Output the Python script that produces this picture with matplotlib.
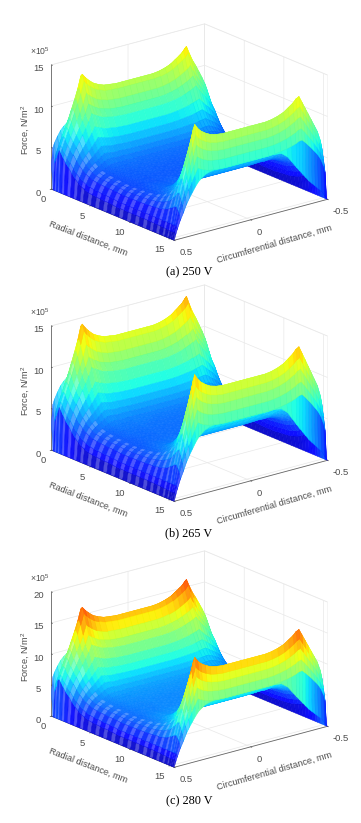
import numpy as np
import matplotlib
matplotlib.use('Agg')
import matplotlib.pyplot as plt

plt.rcParams['font.family'] = ['Liberation Sans', 'DejaVu Sans']
plt.rcParams['mathtext.default'] = 'regular'

# valores (forca em 1e5 N/m2)
circ_dist = [0.5, 0.49, 0.48, 0.46, 0.44, 0.42, 0.40, 0.38, 0.36, 0.34, 0.32, 0.30, 0.27, 0.24, 0.20, 0.16, 0.12, 0.08, 0.04, 0.0,
             -0.04, -0.08, -0.12, -0.16, -0.20, -0.24, -0.27, -0.30, -0.32, -0.34, -0.36, -0.38, -0.40, -0.42, -0.44, -0.46, -0.48, -0.49, -0.5]
near_ridge = [0.0, 5.0, 5.5, 6.5, 7.5, 8.5, 9.6, 10.7, 11.9, 13.4, 12.9, 12.5, 12.0, 11.7, 11.4, 11.3, 11.2, 11.2, 11.2, 11.2,
              11.2, 11.2, 11.2, 11.3, 11.5, 11.8, 12.2, 12.6, 12.9, 13.4, 12.4, 11.5, 10.8, 10.0, 9.2, 8.3, 7.0, 6.0, 0.0]
far_ridge = [0.0, 0.8, 1.6, 3.7, 5.3, 7.0, 8.5, 10.0, 11.4, 13.0, 12.4, 12.0, 11.6, 11.3, 11.1, 11.0, 11.0, 11.0, 11.0, 11.0,
             11.0, 11.0, 11.0, 11.1, 11.3, 11.6, 12.0, 12.4, 12.8, 13.0, 12.2, 11.4, 10.6, 9.8, 9.0, 8.2, 7.0, 6.0, 0.0]
mid_force = [0.0, 1.0, 1.6, 2.3, 2.7, 2.9, 3.0, 3.1, 3.2, 3.2, 3.3, 3.3, 3.3, 3.4, 3.4, 3.4, 3.4, 3.4, 3.4, 3.4,
             3.4, 3.4, 3.4, 3.4, 3.4, 3.4, 3.3, 3.3, 3.3, 3.2, 3.2, 3.1, 3.0, 2.8, 2.6, 2.1, 1.4, 0.8, 0.0]
start_force = [3.0, 5.0, 5.5, 6.2, 6.8, 7.2, 7.5, 7.7, 7.8, 8.0, 7.8, 7.8, 7.8, 7.8, 7.8, 7.8, 7.8, 7.8, 7.8, 7.8,
               7.8, 7.8, 7.8, 7.8, 7.8, 7.8, 7.8, 7.8, 7.8, 7.6, 7.2, 6.6, 6.0, 5.2, 4.4, 3.4, 2.0, 1.0, 0.0]
stop_force = [0.0, 0.6, 1.2, 2.2, 3.0, 3.9, 4.6, 5.2, 5.8, 6.3, 6.6, 6.9, 7.1, 7.2, 7.2, 7.2, 7.2, 7.2, 7.2, 7.2,
              7.2, 7.2, 7.2, 7.1, 7.0, 6.4, 5.6, 4.8, 4.3, 3.8, 3.3, 2.8, 2.4, 2.0, 1.6, 1.2, 0.6, 0.3, 0.0]
radial_dist = [0.0, 0.2, 0.4, 0.6, 0.8, 1.0, 1.3, 1.6, 2.0, 2.4, 2.8, 3.2, 3.6, 4.0, 4.5, 5.0, 5.5, 6.0, 6.5, 7.0, 7.5, 8.0,
               8.5, 9.0, 9.5, 10.0, 10.5, 11.0, 11.5, 12.0, 12.4, 12.8, 13.2, 13.6, 14.0, 14.3, 14.6, 14.8, 15.0, 15.1, 15.2, 15.3, 15.4, 15.5]
ridge_weight = [0.0, 0.55, 0.85, 0.97, 1.0, 0.93, 0.80, 0.68, 0.58, 0.44, 0.33, 0.24, 0.17, 0.12, 0.08, 0.06, 0.05, 0.04, 0.03, 0.03, 0.02, 0.02,
                0.02, 0.02, 0.03, 0.04, 0.05, 0.06, 0.09, 0.12, 0.16, 0.21, 0.28, 0.38, 0.52, 0.66, 0.82, 0.93, 1.0, 0.88, 0.76, 0.62, 0.48, 0.0]

captions = ['(a) 250 V', '(b) 265 V', '(c) 280 V']
peak_scale = [1.0, 1.1, 1.26]
z_tops = [15, 15, 20]
z_ticks = [[0, 5, 10, 15], [0, 5, 10, 15], [0, 5, 10, 15, 20]]
x_ticks = [0, 5, 10, 15]
y_ticks = [0.5, 0, -0.5]
offsets = [0, 261, 527]

W, H = 361, 823
fig = plt.figure(figsize=(W / 100, H / 100), dpi=100)
gray = '#4d4d4d'


def ftext(x, y, s, **kw):
    fig.text(x / W, 1 - y / H, s, ha='center', va='center', **kw)


R, C = np.meshgrid(radial_dist, circ_dist, indexing='ij')
weight = np.array(ridge_weight)[:, None]
is_near = (np.array(radial_dist) < 8)[:, None]
ridge = np.where(is_near, np.array(near_ridge)[None, :], np.array(far_ridge)[None, :])
base = np.array(mid_force) + weight * (ridge - np.array(mid_force))
base[0, :] = start_force
base[-1, :] = stop_force

for i in range(3):
    dy = offsets[i]
    ax = fig.add_axes([-0.08 + 5 / W, 1 - (dy + 281) / H, 1.16, 290 / H], projection='3d', proj_type='ortho')
    ax.view_init(elev=19.5, azim=-38.7)
    ax.set_box_aspect((198, 198, 133), zoom=1.029)
    ax.patch.set_alpha(0)

    Z = base * peak_scale[i]
    mean_z = (Z[:-1, :-1] + Z[1:, :-1] + Z[:-1, 1:] + Z[1:, 1:]) / 4
    colors = plt.cm.jet(np.clip(0.04 + 0.96 * mean_z / 20, 0, 1))

    # malha com branco entre as linhas: mais forte na subida junto da borda
    blend = np.full(mean_z.shape, 0.06)
    rows = np.arange(mean_z.shape[0])
    front = np.array(circ_dist[:-1]) >= 0.42
    blend[:, front] = 0.08
    blend[np.ix_(rows[rows % 2 == 0], np.where(front)[0])] = 0.3
    faces = colors.copy()
    faces[..., :3] = colors[..., :3] * (1 - blend[..., None]) + blend[..., None]

    surf = ax.plot_surface(R, C, Z, rstride=1, cstride=1, facecolors=faces, shade=False, linewidth=0.3)
    surf.set_edgecolor(colors.reshape(-1, 4))

    ax.set_xlim(0, 15.5, view_margin=0)
    ax.set_ylim(0.5, -0.5, view_margin=0)
    ax.set_zlim(0, z_tops[i], view_margin=0)
    ax.set_xticks(x_ticks)
    ax.set_yticks(y_ticks)
    ax.set_yticklabels(['0.5', '0', '-0.5'])
    ax.set_zticks(z_ticks[i])
    ax.zaxis._axinfo['juggled'] = (1, 2, 0)
    for a in (ax.xaxis, ax.yaxis, ax.zaxis):
        a.pane.set_facecolor('white')
        a.pane.set_edgecolor('#e4e4e4')
        a.pane.set_linewidth(0.5)
        a.line.set_color('#666666')
        a.line.set_linewidth(0.6)
        a._axinfo['grid']['color'] = '#e8e8e8'
        a._axinfo['grid']['linewidth'] = 0.5
        a._axinfo['tick']['inward_factor'] = 0.1
        a._axinfo['tick']['outward_factor'] = 0.0
        a._axinfo['tick']['linewidth'] = {True: 0.5, False: 0.5}
        a._axinfo['tick']['color'] = '#666666'
    ax.tick_params(axis='x', labelsize=6.8, colors=gray, pad=-4)
    ax.tick_params(axis='y', labelsize=6.8, colors=gray, pad=-3)
    ax.tick_params(axis='z', labelsize=6.8, colors=gray, pad=-3)
    for t in ax.get_yticklabels():
        t.set_ha('left')
    for t in ax.get_xticklabels():
        t.set_ha('right')

    ftext(88, 238 + dy, 'Radial distance, mm', fontsize=6.6, color=gray, rotation=-21)
    ftext(274, 244 + dy, 'Circumferential distance, mm', fontsize=6.6, color=gray, rotation=16)
    ftext(26, 130 + dy, 'Force, N/m$^2$', fontsize=6.6, color=gray, rotation=90)
    ftext(40, 51 + dy, r'$\times$10$^5$', fontsize=6.2, color=gray)
    ftext(189, 272 + dy + (2 if i == 2 else 0), captions[i], fontsize=8.8, color='black', family='Liberation Serif')

fig.savefig('out.png', dpi=100)
